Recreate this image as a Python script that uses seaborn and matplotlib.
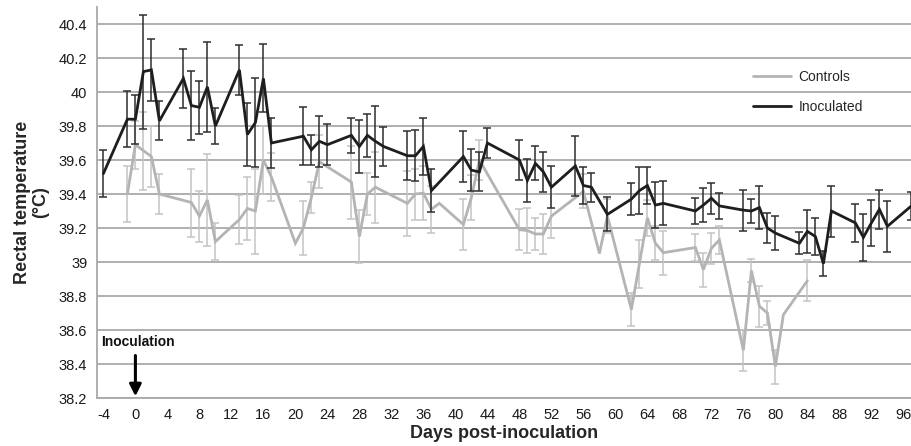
import numpy as np
import pandas as pd
import matplotlib
matplotlib.use("Agg")
import matplotlib.pyplot as plt
from matplotlib.lines import Line2D
import seaborn as sns

# ---- data ----
inoc_days = [-4, -1, 0, 1, 2, 3, 6, 7, 8, 9, 10, 13, 14, 15, 16, 17, 21, 22, 23, 24,
             27, 28, 29, 30, 31, 34, 35, 36, 37, 41, 42, 43, 44, 48, 49, 50, 51, 52,
             55, 56, 57, 59, 62, 63, 64, 65, 66, 70, 71, 72, 73, 76, 77, 78, 79, 80,
             83, 84, 85, 86, 87, 90, 91, 92, 93, 94, 97]
inoc_temp = [39.52, 39.84, 39.84, 40.12, 40.13, 39.83, 40.08, 39.92, 39.91, 40.03, 39.80,
             40.13, 39.75, 39.82, 40.08, 39.70, 39.74, 39.66, 39.71, 39.69,
             39.745, 39.68, 39.745, 39.71, 39.68, 39.625, 39.625, 39.68, 39.42,
             39.62, 39.54, 39.53, 39.70, 39.60, 39.48, 39.58, 39.53, 39.44,
             39.565, 39.45, 39.44, 39.28, 39.37, 39.42, 39.45, 39.335, 39.345,
             39.30, 39.335, 39.375, 39.33, 39.305, 39.30, 39.32, 39.20, 39.17,
             39.11, 39.18, 39.15, 38.99, 39.30, 39.23, 39.145, 39.23, 39.31, 39.21, 39.33]
inoc_err = [0.14, 0.165, 0.145, 0.335, 0.18, 0.115, 0.175, 0.205, 0.155, 0.265, 0.105,
            0.145, 0.185, 0.26, 0.2, 0.145, 0.17, 0.09, 0.15, 0.12,
            0.105, 0.155, 0.125, 0.21, 0.115, 0.145, 0.15, 0.17, 0.125,
            0.15, 0.125, 0.115, 0.09, 0.115, 0.125, 0.10, 0.12, 0.125,
            0.175, 0.11, 0.085, 0.10, 0.095, 0.14, 0.11, 0.135, 0.13,
            0.075, 0.10, 0.09, 0.075, 0.12, 0.07, 0.125, 0.09, 0.10,
            0.065, 0.125, 0.11, 0.075, 0.15, 0.11, 0.14, 0.135, 0.115, 0.15, 0.08]

ctrl_days = [-1, 0, 1, 2, 3, 7, 8, 9, 10, 13, 14, 15, 16, 17, 20, 21, 22, 23,
             27, 28, 29, 30, 34, 35, 36, 37, 38, 41, 42, 43, 48, 49, 50, 51, 52,
             56, 58, 59, 62, 63, 64, 65, 66, 70, 71, 72, 73, 76, 77, 78, 79, 80, 81, 84]
ctrl_temp = [39.40, 39.69, 39.655, 39.62, 39.40, 39.35, 39.27, 39.365, 39.12, 39.25,
             39.315, 39.30, 39.60, 39.50, 39.11, 39.20, 39.38, 39.59,
             39.47, 39.15, 39.40, 39.44, 39.345, 39.40, 39.405, 39.31, 39.345,
             39.22, 39.38, 39.60, 39.19, 39.185, 39.165, 39.165, 39.27,
             39.415, 39.05, 39.27, 38.72, 38.99, 39.26, 39.11, 39.055,
             39.085, 38.955, 39.08, 39.13, 38.48, 38.95, 38.74, 38.70, 38.385, 38.69, 38.89]
ctrl_err = [0.165, 0.14, 0.23, 0.18, 0.115, 0.2, 0.15, 0.27, 0.11, 0.145,
            0.185, 0.25, 0.2, 0.14, 0.0, 0.16, 0.09, 0.155,
            0.215, 0.155, 0.125, 0.21, 0.19, 0.15, 0.16, 0.14, 0.0,
            0.15, 0.13, 0.12, 0.12, 0.13, 0.095, 0.12, 0.13,
            0.10, 0.0, 0.10, 0.095, 0.14, 0.105, 0.10, 0.13,
            0.08, 0.10, 0.09, 0.08, 0.12, 0.07, 0.12, 0.07, 0.10, 0.0, 0.12]

groups = ["Controls", "Inoculated"]
x_ticks = list(range(-4, 97, 4))
y_ticks = [38.2, 38.4, 38.6, 38.8, 39.0, 39.2, 39.4, 39.6, 39.8, 40.0, 40.2, 40.4]
y_tick_labels = ["38.2", "38.4", "38.6", "38.8", "39", "39.2", "39.4", "39.6",
                 "39.8", "40", "40.2", "40.4"]

df = pd.concat([
    pd.DataFrame({"day": ctrl_days, "temp": ctrl_temp, "err": ctrl_err, "group": groups[0]}),
    pd.DataFrame({"day": inoc_days, "temp": inoc_temp, "err": inoc_err, "group": groups[1]}),
], ignore_index=True)

# ---- style ----
sns.set_style("white")
plt.rcParams["font.family"] = ["Liberation Sans", "DejaVu Sans"]

line_col = {"Controls": "#b4b4b4", "Inoculated": "#1e1e1e"}
err_col = {"Controls": "#c4c4c4", "Inoculated": "#2e2e2e"}
grid_col = "#a9a9a9"

fig = plt.figure(figsize=(9.11, 4.46), dpi=100)
ax = fig.add_axes([97 / 911, 48 / 446, 1 - 97 / 911, 391 / 446])

ax.set_xlim(-4.8, 96.95)
ax.set_ylim(38.2, 40.5)

ax.set_yticks(y_ticks)
ax.set_yticklabels(y_tick_labels)
ax.yaxis.grid(True, color=grid_col, linewidth=1.3, zorder=0)
ax.set_axisbelow(True)
ax.set_xticks(x_ticks)
ax.set_xticklabels([str(t) for t in x_ticks])
ax.set_xticks(list(range(-4, 97)), minor=True)

for s in ["top", "right"]:
    ax.spines[s].set_visible(False)
for s in ["left", "bottom"]:
    ax.spines[s].set_color(grid_col)
    ax.spines[s].set_linewidth(1.3)

ax.tick_params(axis="both", which="both", direction="out", color=grid_col,
               length=4, width=1, labelsize=10.5, labelcolor="#1a1a1a", pad=3)
ax.tick_params(axis="x", which="minor", length=3)

# error bars
for g in groups:
    sub = df[(df["group"] == g) & (df["err"] > 0)]
    ax.errorbar(sub["day"], sub["temp"], yerr=sub["err"], fmt="none",
                ecolor=err_col[g], elinewidth=1.1, capsize=3.2, capthick=1.1,
                zorder=2 if g == "Controls" else 4)

# lines
sns.lineplot(data=df, x="day", y="temp", hue="group", palette=line_col,
             hue_order=groups, estimator=None, sort=True, linewidth=2.0,
             legend=False, ax=ax)
for ln, g in zip(ax.get_lines()[-2:], groups):
    ln.set_zorder(3 if g == "Controls" else 5)
    ln.set_solid_joinstyle("miter")

ax.set_xlabel("Days post-inoculation", fontsize=13, fontweight="bold", labelpad=2)
ax.set_ylabel("Rectal temperature\n(°C)", fontsize=13, fontweight="bold", labelpad=7,
              linespacing=1.1)

handles = [Line2D([0], [0], color=line_col[g], lw=2) for g in groups]
ax.legend(handles, groups, loc="upper left", bbox_to_anchor=(0.79, 0.87),
          frameon=False, fontsize=10, handlelength=2.8, handletextpad=0.5,
          labelspacing=1.15)

# inoculation marker
ax.text(-4.3, 38.53, "Inoculation", fontsize=10, fontweight="bold",
        ha="left", va="center", color="#111111")
ax.annotate("", xy=(0, 38.21), xytext=(0, 38.45),
            arrowprops=dict(arrowstyle="-|>,head_length=0.7,head_width=0.35",
                            color="black", lw=2.2, shrinkA=0, shrinkB=0))

fig.savefig("out.png", dpi=100)
